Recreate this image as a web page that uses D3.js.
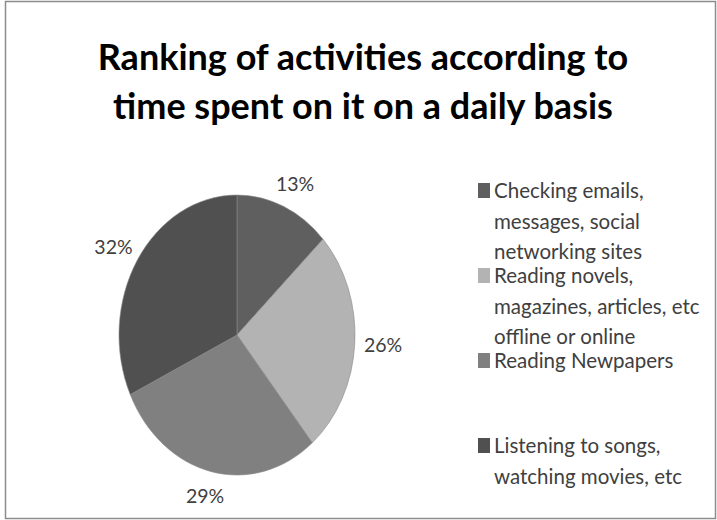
<!DOCTYPE html>
<html>
<head>
<meta charset="utf-8">
<script src="https://cdn.jsdelivr.net/npm/d3@7"></script>
<style>
  html, body { margin: 0; padding: 0; background: #fff; }
  svg { display: block; }
  text { font-family: Lato, "Open Sans", "Liberation Sans", sans-serif; }
</style>
</head>
<body>
<svg id="chart" width="717" height="520"></svg>
<script>
// Chart data
const titleLines = ["Ranking of activities according to", "time spent on it on a daily basis"];
const categories = [
  ["Checking emails,", "messages, social", "networking sites"],
  ["Reading novels,", "magazines, articles, etc", "offline or online"],
  ["Reading Newpapers"],
  ["Listening to songs,", "watching movies, etc"]
];
const values = [13, 26, 29, 32];
const colors = ["#5f5f5f", "#b3b3b3", "#808080", "#505050"];

const W = 717, H = 520;
const svg = d3.select("#chart");

// Outer frame
svg.append("rect")
  .attr("x", 5.5).attr("y", 1.5)
  .attr("width", W - 7).attr("height", H - 3)
  .attr("fill", "#fff").attr("stroke", "#8c8c8c").attr("stroke-width", 1.5);

// Title
const titleY = [70, 119];
titleLines.forEach((t, i) => {
  svg.append("text")
    .attr("x", 363).attr("y", titleY[i])
    .attr("text-anchor", "middle")
    .attr("font-size", 36)
    .attr("font-weight", 700)
    .attr("fill", "#000")
    .text(t);
});

// Pie (drawn as an ellipse, taller than wide)
const cx = 237, cy = 335, rx = 118, ry = 140;
const pie = d3.pie().sort(null).value(d => d)(values);
const arc = d3.arc().innerRadius(0).outerRadius(rx);
const labelArc = d3.arc().innerRadius(rx * 1.24).outerRadius(rx * 1.24);

const pieG = svg.append("g")
  .attr("transform", `translate(${cx},${cy}) scale(1,${ry / rx})`);
pieG.selectAll("path")
  .data(pie)
  .join("path")
  .attr("d", arc)
  .attr("fill", (d, i) => colors[i])
  .attr("stroke", "#8a8a8a")
  .attr("stroke-width", 0.6)
  .attr("vector-effect", "non-scaling-stroke");

// Percentage labels, placed just outside the rim
svg.selectAll("text.pct")
  .data(pie)
  .join("text")
  .attr("class", "pct")
  .attr("x", d => cx + labelArc.centroid(d)[0])
  .attr("y", d => cy + labelArc.centroid(d)[1] * (ry / rx) * 0.95 + 7)
  .attr("text-anchor", "middle")
  .attr("font-size", 19.5)
  .attr("fill", "#404040")
  .text(d => d.data + "%");

// Legend
const legX = 478, legTextX = 494, legTop = 198, entryGap = 85, lineGap = 30.5;
categories.forEach((lines, i) => {
  const base = legTop + entryGap * i;
  svg.append("rect")
    .attr("x", legX).attr("y", base - 15)
    .attr("width", 12).attr("height", 15)
    .attr("fill", colors[i]);
  lines.forEach((ln, j) => {
    svg.append("text")
      .attr("x", legTextX).attr("y", base + lineGap * j)
      .attr("font-size", 20.5)
      .attr("fill", "#404040")
      .text(ln);
  });
});
</script>
</body>
</html>
